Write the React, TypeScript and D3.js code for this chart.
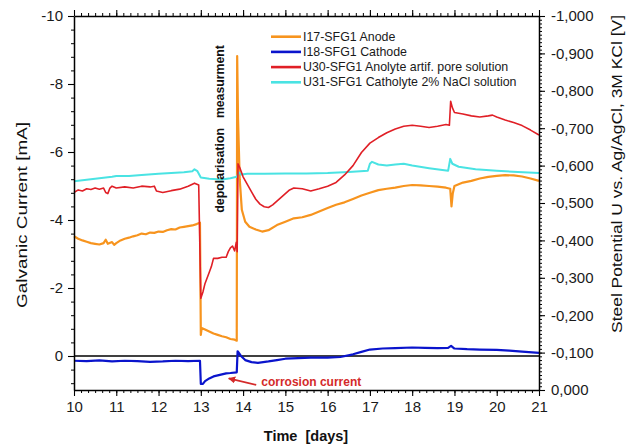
import React, { useEffect, useRef } from "react";
import * as d3 from "d3";

// I17 anode current [mA]
const anodeDays = [10.0, 10.1, 10.2, 10.3, 10.4, 10.5, 10.6, 10.7, 10.75, 10.8, 10.9, 10.95, 11.0, 11.1, 11.2, 11.3, 11.4, 11.5, 11.6, 11.7, 11.8, 11.9, 12.0, 12.1, 12.2, 12.3, 12.4, 12.5, 12.6, 12.7, 12.8, 12.9, 12.98, 13.0, 13.02, 13.1, 13.2, 13.3, 13.4, 13.5, 13.6, 13.7, 13.8, 13.85, 13.86, 13.88, 13.92, 13.97, 14.05, 14.15, 14.3, 14.45, 14.6, 14.8, 15.0, 15.2, 15.4, 15.6, 15.8, 16.0, 16.2, 16.4, 16.6, 16.8, 17.0, 17.2, 17.4, 17.6, 17.8, 18.0, 18.2, 18.4, 18.6, 18.8, 18.9, 18.93, 18.96, 19.0, 19.2, 19.4, 19.6, 19.8, 20.0, 20.2, 20.4, 20.6, 20.8, 21.0];
const anodeCurrent = [-3.52, -3.45, -3.4, -3.36, -3.32, -3.3, -3.28, -3.32, -3.42, -3.3, -3.35, -3.27, -3.32, -3.4, -3.45, -3.48, -3.52, -3.55, -3.6, -3.58, -3.63, -3.62, -3.66, -3.65, -3.7, -3.73, -3.72, -3.78, -3.8, -3.82, -3.84, -3.88, -3.92, -0.62, -0.82, -0.78, -0.72, -0.66, -0.62, -0.58, -0.55, -0.5, -0.48, -0.45, -8.82, -7.0, -5.2, -4.3, -3.95, -3.8, -3.72, -3.66, -3.7, -3.85, -3.95, -4.05, -4.08, -4.15, -4.25, -4.35, -4.45, -4.52, -4.62, -4.72, -4.8, -4.88, -4.92, -4.95, -5.0, -5.03, -5.02, -5.0, -4.98, -4.95, -4.92, -4.4, -4.78, -5.0, -5.1, -5.15, -5.22, -5.27, -5.3, -5.32, -5.31, -5.28, -5.22, -5.15];

// I18 cathode current [mA]
const cathodeDays = [10.0, 10.3, 10.6, 10.9, 11.2, 11.5, 11.8, 12.1, 12.4, 12.7, 12.98, 13.0, 13.05, 13.1, 13.2, 13.3, 13.4, 13.5, 13.6, 13.7, 13.85, 13.87, 13.95, 14.05, 14.2, 14.35, 14.6, 14.8, 15.0, 15.3, 15.6, 16.0, 16.3, 16.6, 16.8, 17.0, 17.3, 17.6, 18.0, 18.3, 18.6, 18.85, 18.92, 19.0, 19.3, 19.6, 20.0, 20.3, 20.6, 21.0];
const cathodeCurrent = [0.14, 0.15, 0.13, 0.16, 0.14, 0.15, 0.17, 0.16, 0.14, 0.15, 0.14, 0.82, 0.82, 0.74, 0.66, 0.6, 0.57, 0.54, 0.51, 0.5, 0.48, -0.14, 0.0, 0.12, 0.18, 0.2, 0.16, 0.12, 0.08, 0.06, 0.05, 0.05, 0.03, -0.05, -0.12, -0.19, -0.22, -0.23, -0.25, -0.24, -0.23, -0.24, -0.3, -0.22, -0.2, -0.19, -0.18, -0.16, -0.13, -0.09];

// U30 anolyte potential [V]
const anolyteDays = [10.0, 10.1, 10.2, 10.3, 10.4, 10.5, 10.6, 10.7, 10.75, 10.8, 10.85, 10.9, 11.0, 11.2, 11.4, 11.6, 11.8, 11.9, 11.95, 12.1, 12.3, 12.5, 12.7, 12.85, 12.95, 13.0, 13.05, 13.1, 13.2, 13.25, 13.3, 13.4, 13.5, 13.6, 13.65, 13.7, 13.75, 13.8, 13.84, 13.86, 13.88, 13.92, 14.0, 14.1, 14.2, 14.3, 14.4, 14.5, 14.6, 14.7, 14.8, 14.9, 15.0, 15.1, 15.2, 15.4, 15.6, 15.8, 16.0, 16.2, 16.4, 16.6, 16.8, 17.0, 17.2, 17.4, 17.6, 17.8, 18.0, 18.2, 18.4, 18.6, 18.8, 18.88, 18.91, 18.95, 19.0, 19.2, 19.4, 19.6, 19.8, 19.9, 20.0, 20.2, 20.4, 20.6, 20.8, 21.0];
const anolytePotential = [-0.528, -0.535, -0.532, -0.538, -0.536, -0.54, -0.537, -0.54, -0.528, -0.525, -0.54, -0.545, -0.54, -0.543, -0.54, -0.545, -0.543, -0.545, -0.532, -0.528, -0.533, -0.537, -0.545, -0.553, -0.548, -0.245, -0.262, -0.285, -0.315, -0.33, -0.352, -0.352, -0.355, -0.355, -0.37, -0.38, -0.385, -0.372, -0.395, -0.37, -0.605, -0.595, -0.57, -0.55, -0.53, -0.51, -0.497, -0.49, -0.488, -0.495, -0.505, -0.515, -0.525, -0.535, -0.54, -0.538, -0.532, -0.538, -0.545, -0.555, -0.575, -0.6, -0.635, -0.66, -0.675, -0.688, -0.698, -0.705, -0.708, -0.705, -0.702, -0.705, -0.71, -0.708, -0.772, -0.755, -0.742, -0.738, -0.733, -0.73, -0.733, -0.735, -0.73, -0.722, -0.715, -0.707, -0.695, -0.682];

// U31 catholyte potential [V]
const catholyteDays = [10.0, 10.3, 10.6, 10.9, 11.0, 11.3, 11.6, 12.0, 12.3, 12.6, 12.8, 12.85, 12.92, 13.0, 13.2, 13.5, 13.7, 13.85, 13.9, 13.95, 14.1, 14.5, 15.0, 15.5, 16.0, 16.5, 16.95, 17.0, 17.05, 17.2, 17.4, 17.6, 17.8, 18.0, 18.4, 18.85, 18.9, 18.95, 19.1, 19.5, 20.0, 20.5, 21.0];
const catholytePotential = [-0.558, -0.562, -0.566, -0.57, -0.572, -0.572, -0.575, -0.578, -0.58, -0.582, -0.585, -0.59, -0.585, -0.568, -0.565, -0.563, -0.566, -0.57, -0.582, -0.576, -0.578, -0.578, -0.579, -0.579, -0.58, -0.583, -0.586, -0.605, -0.61, -0.603, -0.6, -0.603, -0.605, -0.6, -0.593, -0.586, -0.618, -0.605, -0.597, -0.59, -0.586, -0.583, -0.58];

const seriesNames = [
  "I17-SFG1 Anode",
  "I18-SFG1 Cathode",
  "U30-SFG1 Anolyte artif. pore solution",
  "U31-SFG1 Catholyte 2% NaCl solution",
];
const seriesColors = ["#f7941e", "#0a14cc", "#e01f26", "#4ae3e3"];

const dayTicks = [10, 11, 12, 13, 14, 15, 16, 17, 18, 19, 20, 21];
const currentTicks = [-10, -8, -6, -4, -2, 0];
const potentialTicks = [0, -0.1, -0.2, -0.3, -0.4, -0.5, -0.6, -0.7, -0.8, -0.9, -1.0];

const FONT = "Liberation Sans, Arial, Helvetica, sans-serif";

function App() {
  const svgRef = useRef(null);

  useEffect(() => {
    const svg = d3.select(svgRef.current);
    svg.selectAll("*").remove();

    const width = 635;
    const height = 448;
    const margin = { top: 16, right: 96, bottom: 58, left: 74 };
    const innerBottom = height - margin.bottom;
    const innerRight = width - margin.right;

    const x = d3.scaleLinear().domain([10, 21]).range([margin.left, innerRight]);
    const yCurrent = d3.scaleLinear().domain([1, -10]).range([innerBottom, margin.top]);
    const yPotential = d3.scaleLinear().domain([0, -1]).range([innerBottom, margin.top]);

    const dayMinor = d3.range(0, 67).map((i) => 10 + i / 6);
    const currentMinor = d3.range(0, 28).map((i) => -10 + i * 0.4);
    const potentialMinor = d3.range(0, 101).map((i) => -i / 100);

    const styleAxis = (g) => {
      g.attr("font-family", FONT).attr("font-size", 15);
      g.select(".domain").attr("stroke", "#000").attr("stroke-width", 1.5);
      g.selectAll(".tick line").attr("stroke", "#000").attr("stroke-width", 1.1);
      g.selectAll(".tick text").attr("fill", "#1a1a1a");
    };

    // zero line
    svg
      .append("line")
      .attr("x1", margin.left)
      .attr("x2", innerRight)
      .attr("y1", yCurrent(0))
      .attr("y2", yCurrent(0))
      .attr("stroke", "#000")
      .attr("stroke-width", 1.5);

    // series
    const currentLine = d3
      .line()
      .x((d) => x(d[0]))
      .y((d) => yCurrent(d[1]));
    const potentialLine = d3
      .line()
      .x((d) => x(d[0]))
      .y((d) => yPotential(d[1]));

    const drawSeries = (days, values, gen, color, w) =>
      svg
        .append("path")
        .datum(d3.zip(days, values))
        .attr("fill", "none")
        .attr("stroke", color)
        .attr("stroke-width", w)
        .attr("stroke-linejoin", "round")
        .attr("d", gen);

    drawSeries(anodeDays, anodeCurrent, currentLine, seriesColors[0], 2.2);
    drawSeries(cathodeDays, cathodeCurrent, currentLine, seriesColors[1], 2.2);
    drawSeries(catholyteDays, catholytePotential, potentialLine, seriesColors[3], 2);
    drawSeries(anolyteDays, anolytePotential, potentialLine, seriesColors[2], 1.6);

    // axes
    const fmtPotential = (d) =>
      (d < 0 ? "-" : "") + Math.abs(d).toFixed(3).replace(".", ",");

    const bottom = svg
      .append("g")
      .attr("transform", `translate(0,${innerBottom})`)
      .call(
        d3.axisBottom(x).tickValues(dayTicks).tickSize(6).tickSizeOuter(0).tickPadding(5).tickFormat((d) => String(d))
      );
    styleAxis(bottom);
    const top = svg
      .append("g")
      .attr("transform", `translate(0,${margin.top})`)
      .call(d3.axisTop(x).tickValues(dayTicks).tickSize(6).tickSizeOuter(0).tickFormat(() => ""));
    styleAxis(top);
    const left = svg
      .append("g")
      .attr("transform", `translate(${margin.left},0)`)
      .call(
        d3.axisLeft(yCurrent).tickValues(currentTicks).tickSize(6).tickSizeOuter(0).tickPadding(5).tickFormat((d) => String(d))
      );
    styleAxis(left);
    const right = svg
      .append("g")
      .attr("transform", `translate(${innerRight},0)`)
      .call(
        d3.axisRight(yPotential).tickValues(potentialTicks).tickSize(6).tickSizeOuter(0).tickPadding(6).tickFormat(fmtPotential)
      );
    styleAxis(right);

    // minor ticks
    [
      [d3.axisBottom(x), dayMinor, `translate(0,${innerBottom})`],
      [d3.axisTop(x), dayMinor, `translate(0,${margin.top})`],
      [d3.axisLeft(yCurrent), currentMinor, `translate(${margin.left},0)`],
      [d3.axisRight(yPotential), potentialMinor, `translate(${innerRight},0)`],
    ].forEach(([axis, values, tr]) => {
      const g = svg.append("g").attr("transform", tr);
      g.call(axis.tickValues(values).tickSize(3).tickFormat(() => ""));
      g.select(".domain").remove();
      g.selectAll(".tick line").attr("stroke", "#000").attr("stroke-width", 1);
    });

    // axis titles
    const vTitle = (text, cx, cy, len) =>
      svg
        .append("text")
        .attr("transform", `translate(${cx},${cy}) rotate(-90)`)
        .attr("text-anchor", "middle")
        .attr("dominant-baseline", "central")
        .attr("font-family", FONT)
        .attr("font-size", 15)
        .attr("textLength", len)
        .attr("lengthAdjust", "spacingAndGlyphs")
        .attr("fill", "#111")
        .text(text);
    vTitle("Galvanic Current [mA]", 21, 215, 186);
    vTitle("Steel Potential U vs. Ag/AgCl, 3M KCl [V]", 616, 174, 318);

    svg
      .append("text")
      .attr("x", 306)
      .attr("y", 441)
      .attr("text-anchor", "middle")
      .attr("font-family", FONT)
      .attr("font-size", 14.5)
      .attr("font-weight", "bold")
      .attr("fill", "#111")
      .attr("xml:space", "preserve")
      .text("Time  [days]");

    // annotations
    const annot = (text, day, mA, len) =>
      svg
        .append("text")
        .attr("transform", `translate(${x(day)},${yCurrent(mA)}) rotate(-90)`)
        .attr("text-anchor", "middle")
        .attr("dominant-baseline", "central")
        .attr("font-family", FONT)
        .attr("font-size", 12)
        .attr("font-weight", "bold")
        .attr("textLength", len)
        .attr("lengthAdjust", "spacingAndGlyphs")
        .attr("fill", "#111")
        .text(text);
    annot("measurment", 13.45, -8.07, 73);
    annot("depolarisation", 13.45, -5.46, 85);

    svg
      .append("defs")
      .append("marker")
      .attr("id", "arrowhead")
      .attr("viewBox", "0 0 10 10")
      .attr("refX", 9)
      .attr("refY", 5)
      .attr("markerWidth", 4)
      .attr("markerHeight", 4)
      .attr("orient", "auto")
      .append("path")
      .attr("d", "M0,0L10,5L0,10Z")
      .attr("fill", "#d42a2a");
    svg
      .append("line")
      .attr("x1", x(14.31))
      .attr("y1", yCurrent(0.85))
      .attr("x2", x(13.66))
      .attr("y2", yCurrent(0.66))
      .attr("stroke", "#d42a2a")
      .attr("stroke-width", 1.8)
      .attr("marker-end", "url(#arrowhead)");
    svg
      .append("text")
      .attr("x", x(14.43))
      .attr("y", yCurrent(0.77))
      .attr("dominant-baseline", "central")
      .attr("font-family", FONT)
      .attr("font-size", 12)
      .attr("font-weight", "bold")
      .attr("fill", "#d42a2a")
      .text("corrosion current");

    // legend
    const legend = svg.append("g").attr("transform", "translate(271,36.7)");
    seriesNames.forEach((name, i) => {
      const row = legend.append("g").attr("transform", `translate(0,${i * 15.2})`);
      row
        .append("line")
        .attr("x1", 0)
        .attr("x2", 30)
        .attr("stroke", seriesColors[i])
        .attr("stroke-width", 2.6);
      row
        .append("text")
        .attr("x", 32)
        .attr("dominant-baseline", "central")
        .attr("font-family", FONT)
        .attr("font-size", 12.4)
        .attr("fill", "#1a1a1a")
        .text(name);
    });
  }, []);

  return (
    <svg
      ref={svgRef}
      width={635}
      height={448}
      style={{ position: "absolute", left: 0, top: 0, background: "#fff" }}
    />
  );
}

export default App;
